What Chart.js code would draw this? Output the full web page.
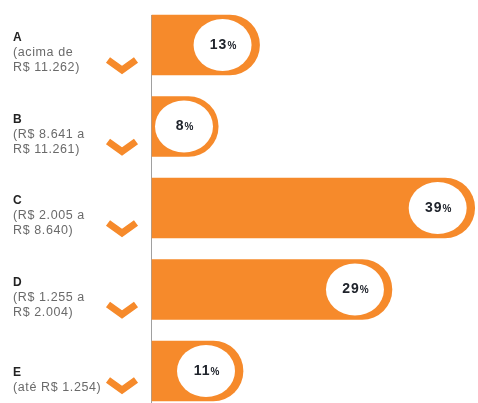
<!DOCTYPE html>
<html>
<head>
<meta charset="utf-8">
<script src="https://cdn.jsdelivr.net/npm/chart.js@4.4.1/dist/chart.umd.min.js"></script>
<style>
  html, body { margin: 0; padding: 0; background: #fff; }
  #wrap { width: 478px; height: 403px; position: relative; }
</style>
</head>
<body>
<div id="wrap"><canvas id="barChart"></canvas></div>
<script>
// classes de renda e participação (%)
const categories = ["A", "B", "C", "D", "E"];
const ranges = [
    ["(acima de", "R$ 11.262)"],
    ["(R$ 8.641 a", "R$ 11.261)"],
    ["(R$ 2.005 a", "R$ 8.640)"],
    ["(R$ 1.255 a", "R$ 2.004)"],
    ["(até R$ 1.254)"]
];
const shares = [13, 8, 39, 29, 11];

const orange = "#f68a2b";

// 1. Labels, chevrons and the white bubbles
const decorPlugin = {
    id: "decor",
    beforeDatasetsDraw(chart) {
        const ctx = chart.ctx;
        ctx.save();
        ctx.strokeStyle = "#a0a0a0";
        ctx.lineWidth = 1;
        ctx.beginPath();
        ctx.moveTo(chart.chartArea.left - 0.5, 15);
        ctx.lineTo(chart.chartArea.left - 0.5, chart.height);
        ctx.stroke();
        ctx.restore();
    },
    afterDatasetsDraw(chart) {
        const ctx = chart.ctx;
        const yScale = chart.scales.y;
        const meta = chart.getDatasetMeta(0);
        ctx.save();

        categories.forEach((cat, i) => {
            const cy = yScale.getPixelForValue(i);
            const lines = ranges[i];
            const shift = (2 - lines.length) * 9;
            let y = cy - 7 + shift;

            ctx.textBaseline = "middle";
            ctx.textAlign = "left";
            ctx.letterSpacing = "0px";
            ctx.fillStyle = "#222";
            ctx.font = "bold 12px 'Liberation Sans', Arial, sans-serif";
            ctx.fillText(cat, 13, y);

            ctx.fillStyle = "#6a6a6a";
            ctx.font = "12.5px 'Liberation Sans', Arial, sans-serif";
            ctx.letterSpacing = "0.6px";
            lines.forEach(txt => {
                y += 15;
                ctx.fillText(txt, 13, y);
            });

            // chevron
            const vy = y - 1;
            ctx.strokeStyle = orange;
            ctx.lineWidth = 7;
            ctx.lineJoin = "miter";
            ctx.lineCap = "butt";
            ctx.beginPath();
            ctx.moveTo(108, vy - 7);
            ctx.lineTo(122, vy + 3);
            ctx.lineTo(136, vy - 7);
            ctx.stroke();

            // bubble at the end of the bar
            const bar = meta.data[i];
            const cx = Math.max(bar.x - 37, bar.base + 32);
            ctx.fillStyle = "#fff";
            ctx.beginPath();
            ctx.ellipse(cx, bar.y, 29, 26, 0, 0, Math.PI * 2);
            ctx.fill();

            const num = String(shares[i]);
            ctx.fillStyle = "#20242c";
            ctx.letterSpacing = "1px";
            ctx.font = "bold 14px 'Liberation Sans', Arial, sans-serif";
            const wNum = ctx.measureText(num).width;
            ctx.font = "bold 10px 'Liberation Sans', Arial, sans-serif";
            const wPct = ctx.measureText("%").width;
            const x0 = cx - (wNum + wPct) / 2 + 1;
            ctx.font = "bold 14px 'Liberation Sans', Arial, sans-serif";
            ctx.fillText(num, x0, bar.y);
            ctx.font = "bold 10px 'Liberation Sans', Arial, sans-serif";
            ctx.fillText("%", x0 + wNum, bar.y + 1);
        });

        ctx.restore();
    }
};

// 2. Render chart
const myChart = new Chart(document.getElementById("barChart"), {
    type: "bar",
    data: {
        labels: categories,
        datasets: [{
            data: shares,
            backgroundColor: orange,
            borderRadius: { topLeft: 0, bottomLeft: 0, topRight: 30, bottomRight: 30 },
            borderSkipped: false,
            barThickness: 60,
            clip: false
        }]
    },
    options: {
        indexAxis: "y",
        responsive: true,
        maintainAspectRatio: false,
        animation: false,
        layout: { padding: { left: 152, top: 45, bottom: 32, right: 0 } },
        scales: {
            x: { display: false, min: 0, max: 39.4 },
            y: { display: false, offset: false }
        },
        plugins: {
            legend: { display: false },
            tooltip: { enabled: false }
        }
    },
    plugins: [decorPlugin]
});
</script>
</body>
</html>
